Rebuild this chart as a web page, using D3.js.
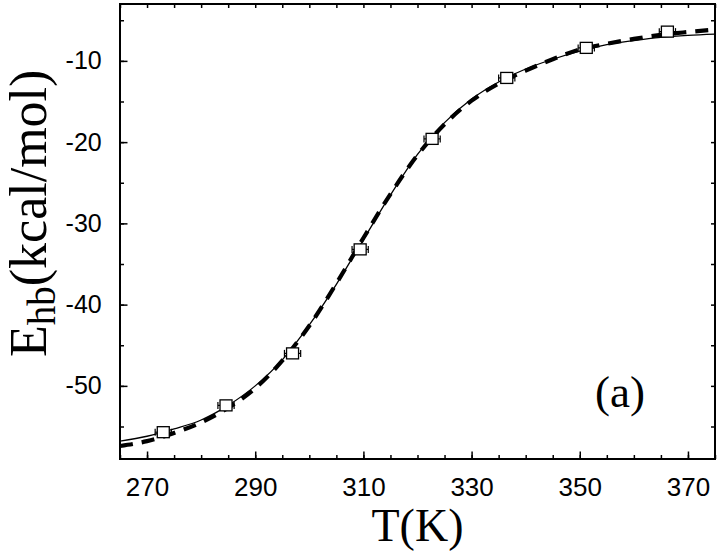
<!DOCTYPE html>
<html>
<head>
<meta charset="utf-8">
<script src="https://cdn.jsdelivr.net/npm/d3@7"></script>
<style>
  body { margin: 0; background: #fff; }
</style>
</head>
<body>
<div id="chart"></div>
<script>
// Simulation points (T in K, E_hb in kcal/mol) with error in T
var pointT = [273.0, 284.6, 296.9, 309.4, 322.7, 336.5, 351.2, 366.2];
var pointE = [-55.7, -52.4, -46.0, -33.2, -19.6, -12.1, -8.4, -6.4];
var pointErr = [1.5, 1.5, 1.5, 1.5, 1.5, 1.5, 1.5, 1.5];

// Curves
var curveT = [265, 270, 275, 280, 285, 290, 295, 300, 305, 310, 315, 320,
              325, 330, 335, 340, 345, 350, 355, 360, 365, 370, 375];
var solidE = [-56.8, -56.2, -55.3, -54.2, -52.4, -50.0, -46.8, -42.5, -37.5, -32.0, -26.5, -21.5,
              -17.6, -14.7, -12.6, -11.0, -9.8, -8.8, -8.0, -7.5, -7.1, -6.85, -6.7];
var dashedE = [-57.4, -56.8, -55.8, -54.5, -52.7, -50.3, -46.9, -42.6, -37.4, -31.8, -26.4, -21.6,
               -17.8, -14.9, -12.8, -11.2, -9.8, -8.6, -7.9, -7.3, -6.8, -6.45, -6.15];

var xTicks = [270, 290, 310, 330, 350, 370];
var yTicks = [-50, -40, -30, -20, -10];

var W = 720, H = 554;
var margin = { top: 4, right: 5, bottom: 95, left: 120 },
    width = W - margin.left - margin.right,
    height = H - margin.top - margin.bottom;

var svg = d3.select("#chart")
    .append("svg")
    .attr("width", W)
    .attr("height", H)
    .append("g")
    .attr("transform", "translate(" + margin.left + "," + margin.top + ")");

var x = d3.scaleLinear().domain([265, 375]).range([0, width]);
var y = d3.scaleLinear().domain([-59, -3]).range([height, 0]);

var xMinor = d3.range(265, 376, 5);
var yMinor = d3.range(-55, -3, 5);

function styleAxis(g) {
    g.select(".domain").remove();
    g.selectAll("line").attr("stroke", "#000").attr("stroke-width", 1.5);
}

// plain hyphen like the original
var fmt = function (d) { return String(d); };

// minor ticks on all four sides
svg.append("g").attr("transform", "translate(0," + height + ")")
    .call(d3.axisBottom(x).tickValues(xMinor).tickSize(-4).tickFormat("")).call(styleAxis);
svg.append("g")
    .call(d3.axisTop(x).tickValues(xMinor).tickSize(-4).tickFormat("")).call(styleAxis);
svg.append("g")
    .call(d3.axisLeft(y).tickValues(yMinor).tickSize(-4).tickFormat("")).call(styleAxis);
svg.append("g").attr("transform", "translate(" + width + ",0)")
    .call(d3.axisRight(y).tickValues(yMinor).tickSize(-4).tickFormat("")).call(styleAxis);

// major ticks + labels
svg.append("g").attr("transform", "translate(0," + height + ")")
    .call(d3.axisBottom(x).tickValues(xTicks).tickSize(-7.5).tickPadding(18.5).tickFormat(fmt))
    .call(styleAxis)
    .call(function (g) {
        g.selectAll("text").attr("font-family", "Liberation Sans, Arial, sans-serif")
            .attr("font-size", 26).attr("fill", "#000");
    });
svg.append("g")
    .call(d3.axisLeft(y).tickValues(yTicks).tickSize(-7.5).tickPadding(18.3).tickFormat(fmt))
    .call(styleAxis)
    .call(function (g) {
        g.selectAll("text").attr("font-family", "Liberation Sans, Arial, sans-serif")
            .attr("font-size", 25).attr("fill", "#000");
    });

// frame
svg.append("rect")
    .attr("width", width).attr("height", height)
    .attr("fill", "none").attr("stroke", "#000").attr("stroke-width", 2);

svg.append("clipPath").attr("id", "clip")
    .append("rect").attr("width", width).attr("height", height);

var line = d3.line()
    .x(function (d) { return x(d[0]); })
    .y(function (d) { return y(d[1]); })
    .curve(d3.curveMonotoneX);

var plot = svg.append("g").attr("clip-path", "url(#clip)");

plot.append("path")
    .datum(d3.zip(curveT, dashedE))
    .attr("fill", "none")
    .attr("stroke", "#000")
    .attr("stroke-width", 4.2)
    .attr("stroke-dasharray", "13,9")
    .attr("d", line);

plot.append("path")
    .datum(d3.zip(curveT, solidE))
    .attr("fill", "none")
    .attr("stroke", "#000")
    .attr("stroke-width", 1.3)
    .attr("d", line);

// error bars
var pts = d3.zip(pointT, pointE, pointErr);
var eb = plot.selectAll(".eb").data(pts).enter().append("g");
eb.append("line")
    .attr("x1", function (d) { return x(d[0] - d[2]); })
    .attr("x2", function (d) { return x(d[0] + d[2]); })
    .attr("y1", function (d) { return y(d[1]); })
    .attr("y2", function (d) { return y(d[1]); })
    .attr("stroke", "#000").attr("stroke-width", 1.2);
[-1, 1].forEach(function (s) {
    eb.append("line")
        .attr("x1", function (d) { return x(d[0] + s * d[2]); })
        .attr("x2", function (d) { return x(d[0] + s * d[2]); })
        .attr("y1", function (d) { return y(d[1]) - 3.5; })
        .attr("y2", function (d) { return y(d[1]) + 3.5; })
        .attr("stroke", "#000").attr("stroke-width", 1.2);
});

// squares
plot.selectAll(".pt").data(pts).enter().append("rect")
    .attr("x", function (d) { return x(d[0]) - 6; })
    .attr("y", function (d) { return y(d[1]) - 5.5; })
    .attr("width", 12).attr("height", 11)
    .attr("fill", "#fff").attr("stroke", "#000").attr("stroke-width", 1.3);

// panel label
svg.append("text")
    .attr("x", 595 - margin.left).attr("y", 407 - margin.top)
    .attr("font-family", "Liberation Serif, Times New Roman, serif")
    .attr("font-size", 45)
    .text("(a)");

// axis titles
svg.append("text")
    .attr("x", width / 2).attr("y", 541 - margin.top)
    .attr("text-anchor", "middle")
    .attr("font-family", "Liberation Serif, Times New Roman, serif")
    .attr("font-size", 46)
    .text("T(K)");

var yt = svg.append("text")
    .attr("transform", "translate(" + (46 - margin.left) + "," + (357 - margin.top) + ") rotate(-90)")
    .attr("font-family", "Liberation Serif, Times New Roman, serif")
    .attr("font-size", 52);
yt.append("tspan").text("E");
yt.append("tspan").attr("font-size", 39).attr("dy", 9).text("hb");
yt.append("tspan").attr("dy", -9).text("(kcal/mol)");
</script>
</body>
</html>
